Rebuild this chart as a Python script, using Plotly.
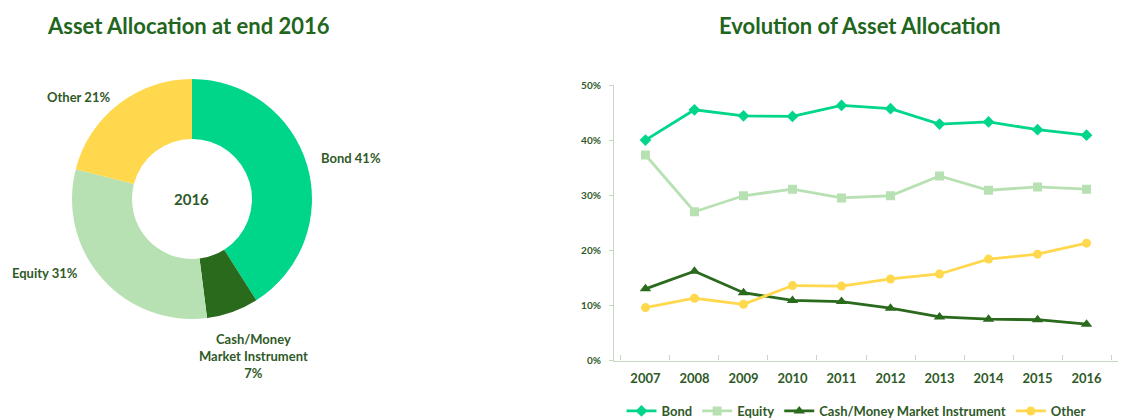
import plotly.graph_objects as go

# ---- data ----
years = ["2007", "2008", "2009", "2010", "2011", "2012", "2013", "2014", "2015", "2016"]
bond = [40.0, 45.5, 44.4, 44.3, 46.3, 45.7, 42.9, 43.3, 41.9, 40.9]
equity = [37.3, 27.0, 29.9, 31.1, 29.5, 29.9, 33.5, 30.9, 31.5, 31.1]
cash = [13.0, 16.2, 12.3, 10.9, 10.7, 9.5, 7.9, 7.5, 7.4, 6.6]
other = [9.6, 11.3, 10.2, 13.6, 13.5, 14.8, 15.7, 18.4, 19.3, 21.3]

pie_labels = ["Bond", "Cash/Money Market Instrument", "Equity", "Other"]
pie_values = [41, 7, 31, 21]
y_ticks = [0, 10, 20, 30, 40, 50]

# ---- styling ----
W, H = 1121, 418
FONT = "Lato"
TXT = "#2f5a28"
TITLE = "#22661d"
AXIS = "#c6d8c1"
C_BOND = "#00d68a"
C_EQUITY = "#b8e1b3"
C_CASH = "#2a6a1c"
C_OTHER = "#ffd84d"


def px_x(x):
    return x / W


def px_y(y):
    return 1 - y / H


fig = go.Figure()

# ---- donut ----
cx, cy, r = 192, 199, 120
fig.add_trace(go.Pie(
    labels=pie_labels,
    values=[v / 100 for v in pie_values],
    hole=0.5,
    sort=False,
    direction="clockwise",
    rotation=0,
    marker=dict(colors=[C_BOND, C_CASH, C_EQUITY, C_OTHER], line=dict(width=0)),
    textinfo="none",
    hoverinfo="skip",
    showlegend=False,
    domain=dict(x=[px_x(cx - r), px_x(cx + r)], y=[px_y(cy + r), px_y(cy - r)]),
))

# ---- lines ----
series = [
    ("Bond", bond, C_BOND, "diamond", 9),
    ("Equity", equity, C_EQUITY, "square", 9),
    ("Cash/Money Market Instrument", cash, C_CASH, "triangle-up", 10),
    ("Other", other, C_OTHER, "circle", 9),
]
for name, vals, col, sym, size in series:
    fig.add_trace(go.Scatter(
        x=years, y=[v / 100 for v in vals], name=name,
        mode="lines+markers",
        line=dict(color=col, width=2.8),
        marker=dict(symbol=sym, size=size, color=col),
        hoverinfo="skip",
        xaxis="x", yaxis="y",
    ))

label_font = dict(size=13, color=TXT, weight="bold")
annotations = [
    dict(text="Asset Allocation at end 2016", x=px_x(45), y=px_y(25),
         xanchor="left", yanchor="middle", font=dict(size=22, color=TITLE, weight="bold")),
    dict(text="Evolution of Asset Allocation", x=px_x(860), y=px_y(25),
         xanchor="center", yanchor="middle", font=dict(size=22, color=TITLE, weight="bold")),
    dict(text="2016", x=px_x(cx), y=px_y(cy),
         xanchor="center", yanchor="middle", font=dict(size=15, color=TXT, weight="bold")),
    dict(text=f"{pie_labels[0]} {pie_values[0]}%", x=px_x(319), y=px_y(158),
         xanchor="left", yanchor="middle", font=label_font),
    dict(text=f"Cash/Money<br>Market Instrument<br>{pie_values[1]}%", x=px_x(253), y=px_y(356),
         xanchor="center", yanchor="middle", font=label_font),
    dict(text=f"{pie_labels[2]} {pie_values[2]}%", x=px_x(10), y=px_y(273),
         xanchor="left", yanchor="middle", font=label_font),
    dict(text=f"{pie_labels[3]} {pie_values[3]}%", x=px_x(45), y=px_y(97),
         xanchor="left", yanchor="middle", font=label_font),
]
for a in annotations:
    a.update(xref="paper", yref="paper", showarrow=False)

fig.update_layout(
    width=W, height=H,
    margin=dict(l=0, r=0, t=0, b=0, autoexpand=False),
    paper_bgcolor="white", plot_bgcolor="white",
    font=dict(family=FONT, color=TXT),
    annotations=annotations,
    xaxis=dict(
        domain=[px_x(614), px_x(1118)],
        type="category",
        automargin=False,
        showgrid=False, showline=True, linecolor=AXIS, linewidth=1.2,
        ticks="inside", tickson="boundaries", ticklen=5, tickcolor=AXIS,
        tickfont=dict(size=13, color=TXT, weight="bold"),
        ticklabelstandoff=6,
        fixedrange=True,
    ),
    yaxis=dict(
        domain=[px_y(360.5), px_y(85)],
        range=[0, 0.5],
        automargin=False,
        tickvals=[t / 100 for t in y_ticks],
        ticktext=[f"{t}%" for t in y_ticks],
        showgrid=False, showline=True, linecolor=AXIS, linewidth=1.2,
        ticks="outside", ticklen=4, tickcolor=AXIS,
        tickfont=dict(size=10, color=TXT, weight="bold"),
        ticklabelstandoff=6,
        zeroline=False,
        fixedrange=True,
    ),
    legend=dict(
        orientation="h",
        x=px_x(856), xanchor="center", y=px_y(411), yanchor="middle",
        font=dict(size=13, color=TXT, weight="bold"), itemwidth=30,
        bgcolor="rgba(0,0,0,0)",
    ),
)

fig.write_html("out.html")
